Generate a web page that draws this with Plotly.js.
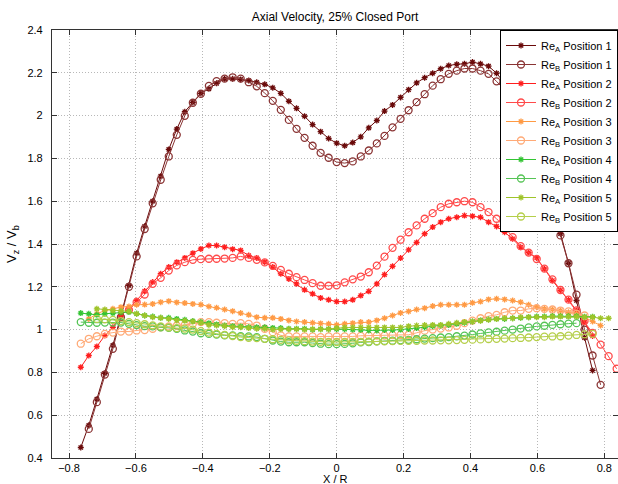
<!DOCTYPE html>
<html>
<head>
<meta charset="utf-8">
<script src="https://cdn.plot.ly/plotly-3.0.1.min.js"></script>
<style>html,body{margin:0;padding:0;background:#fff;}#chart{width:618px;height:484px;}</style>
</head>
<body>
<div id="chart"></div>
<script>
// Radial positions X/R of the measurement stations
const xPos = [-0.765,-0.741,-0.717,-0.693,-0.669,-0.645,-0.621,-0.598,-0.574,-0.550,
  -0.526,-0.502,-0.478,-0.454,-0.430,-0.406,-0.382,-0.359,-0.335,-0.311,
  -0.287,-0.263,-0.239,-0.215,-0.191,-0.167,-0.143,-0.120,-0.096,-0.072,
  -0.048,-0.024,0.000,0.024,0.048,0.072,0.096,0.120,0.143,0.167,
  0.191,0.215,0.239,0.263,0.287,0.311,0.335,0.359,0.382,0.406,
  0.430,0.454,0.478,0.502,0.526,0.550,0.574,0.598,0.621,0.645,
  0.669,0.693,0.717,0.741,0.765,0.789,0.813,0.837];

const seriesNames = ["Re<sub>A</sub> Position 1","Re<sub>B</sub> Position 1",
  "Re<sub>A</sub> Position 2","Re<sub>B</sub> Position 2",
  "Re<sub>A</sub> Position 3","Re<sub>B</sub> Position 3",
  "Re<sub>A</sub> Position 4","Re<sub>B</sub> Position 4",
  "Re<sub>A</sub> Position 5","Re<sub>B</sub> Position 5"];

// index into xPos of each series' first point
const seriesStart = [0, 1, 0, 6, 1, 0, 0, 0, 2, 2];

const p1A = [0.449,0.553,0.675,0.796,0.927,1.064,1.207,1.357,1.483,1.600,
  1.717,1.842,1.937,2.018,2.062,2.104,2.125,2.151,2.172,2.172,
  2.169,2.164,2.156,2.146,2.130,2.104,2.067,2.034,1.997,1.958,
  1.925,1.893,1.871,1.859,1.874,1.901,1.943,1.977,2.021,2.050,
  2.085,2.121,2.153,2.177,2.198,2.219,2.234,2.240,2.242,2.250,
  2.242,2.231,2.198,2.151,2.105,2.050,1.970,1.870,1.740,1.590,
  1.448,1.310,1.136,0.962,0.809];
const p1B = [0.536,0.661,0.790,0.910,1.058,1.200,1.342,1.470,1.590,
  1.700,1.809,1.910,1.999,2.060,2.102,2.139,2.161,2.173,2.179,
  2.173,2.156,2.137,2.105,2.069,2.027,1.980,1.938,1.896,1.859,
  1.826,1.803,1.783,1.778,1.786,1.809,1.837,1.870,1.905,1.945,
  1.985,2.025,2.063,2.100,2.140,2.170,2.195,2.210,2.220,2.220,
  2.210,2.195,2.160,2.120,2.070,2.000,1.920,1.820,1.700,1.570,
  1.440,1.310,1.163,1.000,0.879,0.742];
const p2A = [0.824,0.879,0.921,0.972,1.011,1.066,1.097,1.136,1.180,1.222,
  1.261,1.292,1.315,1.335,1.357,1.377,1.393,1.393,1.385,1.376,
  1.370,1.346,1.335,1.315,1.292,1.261,1.237,1.214,1.186,1.167,
  1.148,1.139,1.131,1.131,1.139,1.159,1.179,1.214,1.257,1.296,
  1.334,1.373,1.407,1.448,1.479,1.502,1.518,1.525,1.533,1.530,
  1.525,1.502,1.482,1.455,1.424,1.385,1.360,1.335,1.284,1.229,
  1.183,1.139,1.089,1.035,0.970];
const p2B = [1.092,1.128,1.164,1.214,1.242,1.276,1.300,1.315,1.326,1.329,
  1.331,1.331,1.332,1.335,1.342,1.335,1.326,1.314,1.298,1.279,
  1.261,1.245,1.232,1.217,1.205,1.205,1.207,1.221,1.235,1.248,
  1.268,1.299,1.341,1.382,1.420,1.455,1.487,1.518,1.544,1.572,
  1.588,1.595,1.600,1.595,1.572,1.549,1.518,1.479,1.432,1.390,
  1.360,1.330,1.285,1.235,1.185,1.140,1.090,1.040,0.985,0.930,
  0.876,0.817];
const p3A = [1.050,1.074,1.089,1.097,1.105,1.108,1.116,1.117,1.120,1.128,
  1.133,1.127,1.124,1.120,1.117,1.108,1.102,1.094,1.086,1.077,
  1.069,1.058,1.055,1.055,1.050,1.043,1.038,1.035,1.032,1.029,
  1.027,1.022,1.027,1.030,1.035,1.035,1.043,1.053,1.066,1.078,
  1.085,1.094,1.100,1.110,1.116,1.116,1.116,1.116,1.125,1.131,
  1.141,1.144,1.141,1.136,1.128,1.116,1.105,1.097,1.094,1.089,
  1.081,1.074,1.058,1.038,1.019];
const p3B = [0.934,0.957,0.969,0.980,0.986,0.991,0.991,0.996,0.998,1.004,
  1.011,1.015,1.018,1.022,1.027,1.035,1.035,1.032,1.030,1.027,
  1.030,1.027,1.019,1.004,0.988,0.973,0.968,0.968,0.968,0.968,
  0.965,0.968,0.968,0.968,0.968,0.971,0.972,0.972,0.972,0.974,
  0.975,0.976,0.985,0.995,1.000,1.005,1.010,1.018,1.030,1.042,
  1.053,1.063,1.069,1.081,1.089,1.089,1.097,1.100,1.097,1.094,
  1.089,1.085,1.074,1.066];
const p4A = [1.077,1.074,1.069,1.074,1.077,1.080,1.082,1.074,1.066,1.061,
  1.055,1.055,1.050,1.046,1.040,1.035,1.030,1.024,1.019,1.016,
  1.015,1.011,1.011,1.011,1.008,1.007,1.004,1.004,1.004,1.000,
  1.002,1.002,1.002,1.002,1.000,0.999,0.996,0.996,0.998,0.998,
  1.000,1.003,1.007,1.011,1.016,1.019,1.022,1.027,1.032,1.038,
  1.043,1.047,1.050,1.050,1.053,1.055,1.058,1.061,1.061,1.063,
  1.063,1.063,1.063,1.060,1.060];
const p4B = [1.035,1.032,1.032,1.033,1.033,1.033,1.027,1.021,1.016,1.015,
  1.011,1.008,1.004,0.996,0.991,0.983,0.980,0.977,0.973,0.973,
  0.969,0.968,0.965,0.957,0.949,0.944,0.941,0.941,0.941,0.937,
  0.934,0.932,0.932,0.933,0.936,0.940,0.942,0.945,0.947,0.948,
  0.950,0.952,0.955,0.958,0.960,0.963,0.965,0.969,0.972,0.977,
  0.982,0.987,0.990,0.995,1.000,1.005,1.010,1.015,1.018,1.022,
  1.025,1.028,1.030];
const p5A = [1.097,1.094,1.089,1.087,1.085,1.074,1.066,1.058,1.055,1.050,
  1.043,1.041,1.038,1.032,1.022,1.019,1.016,1.011,1.011,1.007,
  1.004,1.004,1.000,1.002,1.002,1.002,1.000,1.002,1.002,1.002,
  1.007,1.010,1.010,1.010,1.010,1.010,1.010,1.010,1.010,1.016,
  1.019,1.021,1.022,1.022,1.027,1.032,1.035,1.038,1.041,1.046,
  1.050,1.053,1.053,1.057,1.058,1.058,1.058,1.061,1.061,1.061,
  1.061,1.058,1.058,1.053,1.053];
const p5B = [1.050,1.048,1.045,1.040,1.035,1.030,1.025,1.020,1.015,1.010,
  1.007,1.005,1.000,0.993,0.986,0.980,0.975,0.970,0.965,0.962,
  0.960,0.957,0.955,0.952,0.950,0.948,0.946,0.944,0.943,0.942,
  0.942,0.942,0.943,0.943,0.944,0.945,0.945,0.946,0.947,0.948,
  0.948,0.949,0.949,0.950,0.950,0.951,0.952,0.953,0.954,0.956,
  0.957,0.958,0.960,0.961,0.963,0.965,0.967,0.968,0.969,0.972,
  0.975,0.978,0.980];

const seriesValues = [p1A,p1B,p2A,p2B,p3A,p3B,p4A,p4B,p5A,p5B];
const seriesColors = ["#6a0a0a","#8a3434","#ff1e1e","#ff4a4a","#ff9a44","#ffaa77",
  "#33c433","#55c455","#9fc42a","#b5cf4a"];
const seriesSymbols = ["asterisk-open","circle-open","asterisk-open","circle-open","asterisk-open",
  "circle-open","asterisk-open","circle-open","asterisk-open","circle-open"];

const traces = seriesValues.map((vals, i) => ({
  type: "scatter",
  mode: "lines+markers",
  name: seriesNames[i],
  x: xPos.slice(seriesStart[i], seriesStart[i] + vals.length),
  y: vals,
  line: {color: seriesColors[i], width: 1},
  marker: {symbol: seriesSymbols[i], size: seriesSymbols[i] === "circle-open" ? 7 : 5,
           color: seriesColors[i], line: {color: seriesColors[i], width: 1.3}}
}));

const axisCommon = {
  showline: true, linecolor: "#333", linewidth: 1, mirror: "ticks",
  ticks: "inside", ticklen: 5, tickcolor: "#333",
  showgrid: true, gridcolor: "#b8b8b8", griddash: "1px,2px", gridwidth: 1,
  zeroline: false,
  tickfont: {family: "Liberation Sans, Arial, sans-serif", size: 11, color: "#000"}
};

const layout = {
  width: 618, height: 484,
  margin: {l: 52, r: 0, t: 30, b: 26, pad: 0},
  paper_bgcolor: "#fff", plot_bgcolor: "#fff",
  font: {family: "Liberation Sans, Arial, sans-serif", size: 11, color: "#000"},
  title: {text: "Axial Velocity, 25% Closed Port", x: 0.5, xref: "paper",
          y: 1 - 17/484, yref: "container", yanchor: "middle",
          font: {family: "Liberation Sans, Arial, sans-serif", size: 12, color: "#000"}},
  xaxis: Object.assign({}, axisCommon, {range: [-0.851, 0.841], tick0: -0.8, dtick: 0.2}),
  yaxis: Object.assign({}, axisCommon, {range: [0.4, 2.4], tick0: 0.4, dtick: 0.2, ticksuffix: "\u00a0\u00a0"}),
  showlegend: true,
  legend: {x: 1, xanchor: "right", y: 1, yanchor: "top", bgcolor: "#fff",
           bordercolor: "#000", borderwidth: 1,
           font: {family: "Liberation Sans, Arial, sans-serif", size: 11, color: "#000"},
           tracegroupgap: 0, itemwidth: 30},
  annotations: [
    {text: "X / R", xref: "paper", yref: "paper", x: 0.5, y: -21/428, yanchor: "middle",
     showarrow: false, font: {size: 11}},
    {text: "V<sub>z</sub> / V<sub>b</sub>", xref: "paper", yref: "paper", x: -40/566, y: 0.5,
     xanchor: "center", yanchor: "middle", textangle: -90, showarrow: false, font: {size: 13}}
  ]
};

Plotly.newPlot("chart", traces, layout, {displayModeBar: false, staticPlot: true});
</script>
</body>
</html>
